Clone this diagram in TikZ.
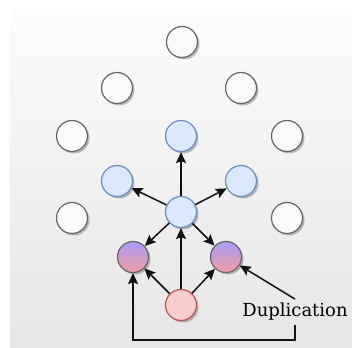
\documentclass[tikz,border=0pt]{standalone}
\usepackage{fontspec}
\setmainfont{DejaVu Serif}
\usepackage{tikz}
\usetikzlibrary{arrows.meta, positioning, shadows}
\definecolor{idleline}{HTML}{666666}
\definecolor{idlefill}{HTML}{FAFAFA}
\definecolor{blueline}{HTML}{6C8EBF}
\definecolor{bluefill}{HTML}{DAE8FC}
\definecolor{redline}{HTML}{B85450}
\definecolor{redfill}{HTML}{F8CECC}
\definecolor{duptop}{HTML}{A99CF6}
\definecolor{dupbottom}{HTML}{F09DA3}
\definecolor{darkgray}{HTML}{111111}
\tikzset{
  peer/.style={
    circle, minimum size=31pt, inner sep=0pt,
    line width=1.2pt,
    drop shadow={shadow xshift=2pt, shadow yshift=-2pt, fill=black, opacity=0.25},
  },
  idle/.style={peer, draw=idleline, fill=idlefill},
  visited/.style={peer, draw=blueline, fill=bluefill},
  seed/.style={peer, draw=redline, fill=redfill},
  dup/.style={peer, draw=idleline, top color=duptop, bottom color=dupbottom},
  arrow/.style={-{Stealth[length=11pt, width=10pt, inset=2pt]}, line width=1.5pt, color=darkgray},
}

\begin{document}
\begin{tikzpicture}[x=1pt, y=-1pt]
  \useasboundingbox (0,0) rectangle (352,347);
  \fill[top color=white!98!gray, bottom color=gray!20] (10,8) rectangle (352,347);
  % idle peers
  \node[idle] (n1) at (182,42) {};
  \node[idle] (n2) at (117,88) {};
  \node[idle] (n3) at (241,88) {};
  \node[idle] (n4) at (72,136) {};
  \node[idle] (n5) at (287,136) {};
  \node[idle] (n6) at (72,218) {};
  \node[idle] (n7) at (287,218) {};
  % reached peers
  \node[visited] (up) at (181,136) {};
  \node[visited] (upleft) at (117,181) {};
  \node[visited] (upright) at (241,181) {};
  \node[visited] (hub) at (181,212) {};
  \node[dup] (dupleft) at (133,257) {};
  \node[dup] (dupright) at (226,257) {};
  \node[seed] (origin) at (181,305) {};
  \node[inner sep=4pt, font=\fontsize{18}{20}\selectfont] (dupnote) at (295,312) {Duplication};
  \coordinate (corner) at (295,340);
  % forwarding
  \draw[arrow] (hub)--(up);
  \draw[arrow] (hub)--(upleft);
  \draw[arrow] (hub)--(upright);
  \draw[arrow] (hub)--(dupleft);
  \draw[arrow] (hub)--(dupright);
  \draw[arrow] (origin)--(hub);
  \draw[arrow] (origin)--(dupleft);
  \draw[arrow] (origin)--(dupright);
  \draw[arrow] (dupnote.north)--(dupright);
  \draw[arrow] (dupnote.south)--(corner)-|(dupleft.south);
\end{tikzpicture}
\end{document}
